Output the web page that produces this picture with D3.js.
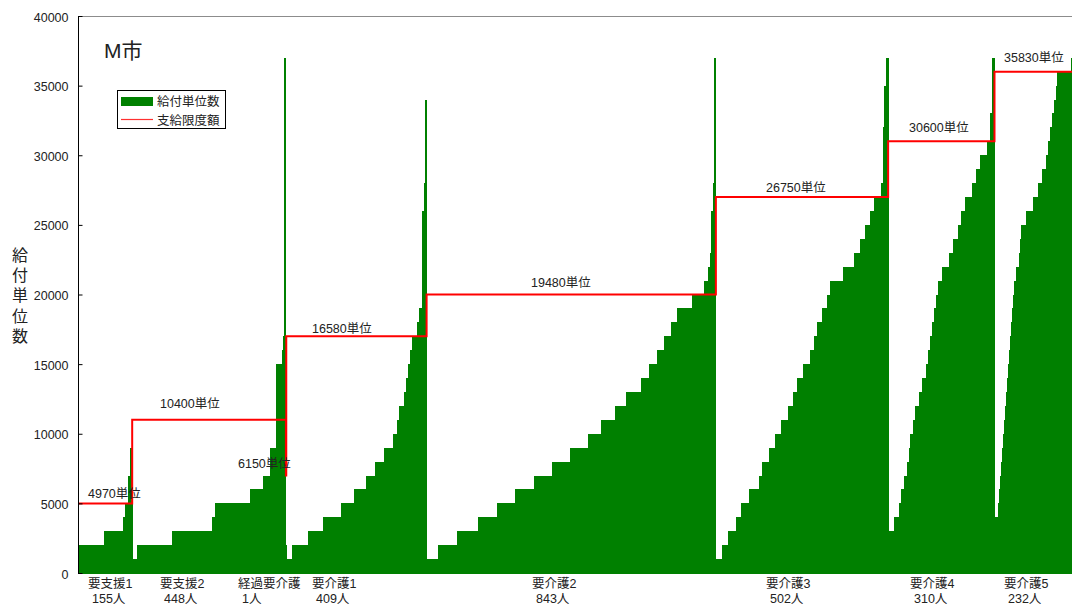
<!DOCTYPE html>
<html>
<head>
<meta charset="utf-8">
<script src="https://cdn.jsdelivr.net/npm/d3@7"></script>
<style>
  body { margin: 0; background: #fff; }
  text { font-family: "Liberation Sans", "Noto Sans CJK JP", sans-serif; fill: #222; }
</style>
</head>
<body>
<div id="chart"></div>
<script>
// categories (care levels) and number of people in each
var categories = ["要支援1", "要支援2", "経過要介護", "要介護1", "要介護2", "要介護3", "要介護4", "要介護5"];
var persons = [155, 448, 1, 409, 843, 502, 310, 232];

// limit amounts: the text shown and the level the red line is drawn at
var limitText = [4970, 10400, 6150, 16580, 19480, 26750, 30600, 35830];
var limitLevel = [5000, 11000, 7000, 17000, 20000, 27000, 31000, 36000];

var yTicks = [0, 5000, 10000, 15000, 20000, 25000, 30000, 35000, 40000];

// benefit units per person, sorted, as [units, number of people]
var shien1 = [[1000,1],[2000,72],[3000,55],[4000,6],[5000,10],[7000,6],[9000,5]];
var shien2 = [[1000,14],[2000,102],[3000,118],[4000,8],[5000,100],[6000,38],[7000,22],[9000,18],[15000,16],[16000,4],[17000,3],[37000,5]];
var keika = [[2000,1]];
var kaigo1 = [[1000,17],[2000,45],[3000,46],[4000,51],[5000,38],[6000,35],[7000,26],[8000,26],[9000,26],[10000,12],[11000,8],[12000,12],[13000,6],[14000,6],[15000,6],[16000,7],[17000,15],[18000,6],[19000,8],[26000,4],[28000,4],[34000,5]];
var kaigo2 = [[1000,33],[2000,55],[3000,61],[4000,55],[5000,55],[6000,55],[7000,50],[8000,55],[9000,50],[10000,38],[11000,41],[12000,32],[13000,44],[14000,23],[15000,23],[16000,23],[17000,18],[18000,20],[19000,41],[20000,35],[21000,12],[22000,6],[23000,3],[26000,6],[28000,3],[37000,6]];
var kaigo3 = [[1000,18],[2000,18],[3000,23],[4000,15],[5000,23],[6000,29],[7000,9],[8000,20],[9000,18],[10000,18],[11000,20],[12000,15],[13000,9],[14000,18],[15000,20],[16000,12],[17000,9],[18000,15],[19000,15],[20000,9],[21000,38],[22000,32],[23000,18],[24000,15],[25000,12],[26000,12],[27000,20],[28000,6],[32000,3],[35000,6],[37000,7]];
var kaigo4 = [[3000,16],[4000,15],[5000,6],[6000,9],[7000,9],[8000,6],[9000,3],[10000,9],[11000,6],[12000,12],[13000,9],[14000,9],[15000,6],[16000,6],[17000,6],[18000,6],[19000,6],[20000,6],[21000,12],[22000,20],[23000,12],[24000,15],[25000,9],[26000,12],[27000,20],[28000,12],[29000,12],[30000,20],[31000,9],[33000,6],[37000,6]];
var kaigo5 = [[4000,10],[5000,3],[6000,3],[7000,3],[8000,3],[9000,3],[10000,3],[11000,3],[12000,3],[13000,3],[14000,3],[15000,3],[16000,3],[17000,3],[18000,3],[19000,3],[20000,3],[21000,6],[22000,6],[23000,3],[24000,3],[25000,15],[26000,20],[27000,15],[28000,12],[29000,12],[30000,6],[31000,6],[32000,6],[33000,6],[34000,6],[35000,3],[36000,41],[37000,8]];

var groupRuns = [shien1, shien2, keika, kaigo1, kaigo2, kaigo3, kaigo4, kaigo5];

// layout
var width = 1072, height = 605;
var plotTop = 16, plotBottom = 573, plotLeft = 78.5;
var total = d3.sum(persons);

var svg = d3.select("#chart")
  .append("svg")
    .attr("width", width)
    .attr("height", height);

// x runs over people (cumulative), y over benefit units
var x = d3.scaleLinear()
    .domain([0, total])
    .range([79, 79 + total * 0.34314]);
var y = d3.scaleLinear()
    .domain([0, 40000])
    .range([plotBottom, plotTop]);

// build the bar segments: one rect per run of equal values
var starts = [];
var segs = [];
var pos = 0;
groupRuns.forEach(function(runs, gi) {
  starts.push(pos);
  runs.forEach(function(r) {
    segs.push({ v: r[0], i0: pos, i1: pos + r[1], g: gi });
    pos += r[1];
  });
});
starts.push(pos);

svg.append("clipPath").attr("id", "plotclip")
  .append("rect").attr("x", plotLeft).attr("y", 0).attr("width", width - plotLeft).attr("height", plotBottom + 2);

// top frame line
svg.append("line")
  .attr("x1", plotLeft).attr("x2", width)
  .attr("y1", plotTop + 0.5).attr("y2", plotTop + 0.5)
  .attr("stroke", "#8c8c8c").attr("stroke-width", 1);

var plot = svg.append("g").attr("clip-path", "url(#plotclip)");

// green bars
plot.append("g")
  .selectAll("rect")
  .data(segs)
  .enter()
  .append("rect")
    .attr("x", function(d) { return x(d.i0); })
    .attr("width", function(d) { return x(d.i1) - x(d.i0) + 0.4; })
    .attr("y", function(d) { return y(d.v); })
    .attr("height", function(d) { return y(0) - y(d.v) + 1; })
    .attr("fill", "#008000")
    .attr("shape-rendering", "crispEdges");

// red limit line (step)
var limitPts = limitLevel.map(function(l, i) { return [starts[i], l]; });
limitPts.push([total, limitLevel[limitLevel.length - 1]]);
plot.append("path")
  .datum(limitPts)
  .attr("fill", "none")
  .attr("stroke", "#ff0000")
  .attr("stroke-width", 2)
  .attr("d", d3.line()
      .x(function(d) { return x(d[0]); })
      .y(function(d) { return y(d[1]); })
      .curve(d3.curveStepAfter));

// limit labels (manually placed text boxes in the original)
var limitLabelPos = [[88, 498], [160, 408], [238, 467.5], [312, 333], [531, 287], [766, 191.5], [909, 131.5], [1004, 62]];
svg.append("g")
  .selectAll("text")
  .data(limitText)
  .enter()
  .append("text")
    .attr("x", function(d, i) { return limitLabelPos[i][0]; })
    .attr("y", function(d, i) { return limitLabelPos[i][1]; })
    .style("font-size", "12.5px")
    .text(function(d) { return d + "単位"; });

// y axis
var yAxis = d3.axisLeft(y).tickValues(yTicks).tickSize(-4).tickPadding(10).tickFormat(d3.format("d"));
var ya = svg.append("g")
  .attr("transform", "translate(" + plotLeft + ",0)")
  .call(yAxis);
ya.select(".domain").attr("stroke", "#000").attr("d", "M0," + plotTop + "V" + (plotBottom + 1));
ya.selectAll(".tick line").attr("stroke", "#000");
ya.selectAll(".tick text")
  .style("font-size", "12.5px")
  .style("font-family", "'Liberation Sans', sans-serif")
  .attr("fill", "#222")
  .attr("dy", "0.4em");

// y axis title, stacked characters
svg.append("text")
  .attr("x", 20)
  .attr("y", 255)
  .style("font-size", "16px")
  .attr("text-anchor", "middle")
  .selectAll("tspan")
  .data("給付単位数".split(""))
  .enter()
  .append("tspan")
    .attr("x", 20)
    .attr("dy", function(d, i) { return i === 0 ? "0.35em" : 20.3; })
    .text(function(d) { return d; });

// category labels under the axis
var catLabelX = [88, 160, 238, 312, 532, 766, 910, 1004];
var cats = svg.append("g")
  .selectAll("g")
  .data(categories)
  .enter()
  .append("g");
cats.append("text")
  .attr("x", function(d, i) { return catLabelX[i]; })
  .attr("y", 588)
  .style("font-size", "12.5px")
  .text(function(d) { return d; });
cats.append("text")
  .attr("x", function(d, i) { return catLabelX[i] + 4; })
  .attr("y", 603)
  .style("font-size", "12.5px")
  .text(function(d, i) { return persons[i] + "人"; });

// title
svg.append("text")
  .attr("x", 104)
  .attr("y", 58)
  .style("font-size", "21px")
  .text("M市");

// legend
var legend = svg.append("g").attr("transform", "translate(117,90)");
legend.append("rect")
  .attr("x", 0.5).attr("y", 0.5).attr("width", 108).attr("height", 38)
  .attr("fill", "#fff").attr("stroke", "#000").attr("stroke-width", 1);
legend.append("rect")
  .attr("x", 4).attr("y", 7).attr("width", 32).attr("height", 9)
  .attr("fill", "#008000");
legend.append("line")
  .attr("x1", 4).attr("x2", 36).attr("y1", 29.5).attr("y2", 29.5)
  .attr("stroke", "#ff3030").attr("stroke-width", 1.2);
legend.append("text")
  .attr("x", 40).attr("y", 16)
  .style("font-size", "12.5px")
  .text("給付単位数");
legend.append("text")
  .attr("x", 40).attr("y", 35)
  .style("font-size", "12.5px")
  .text("支給限度額");
</script>
</body>
</html>
